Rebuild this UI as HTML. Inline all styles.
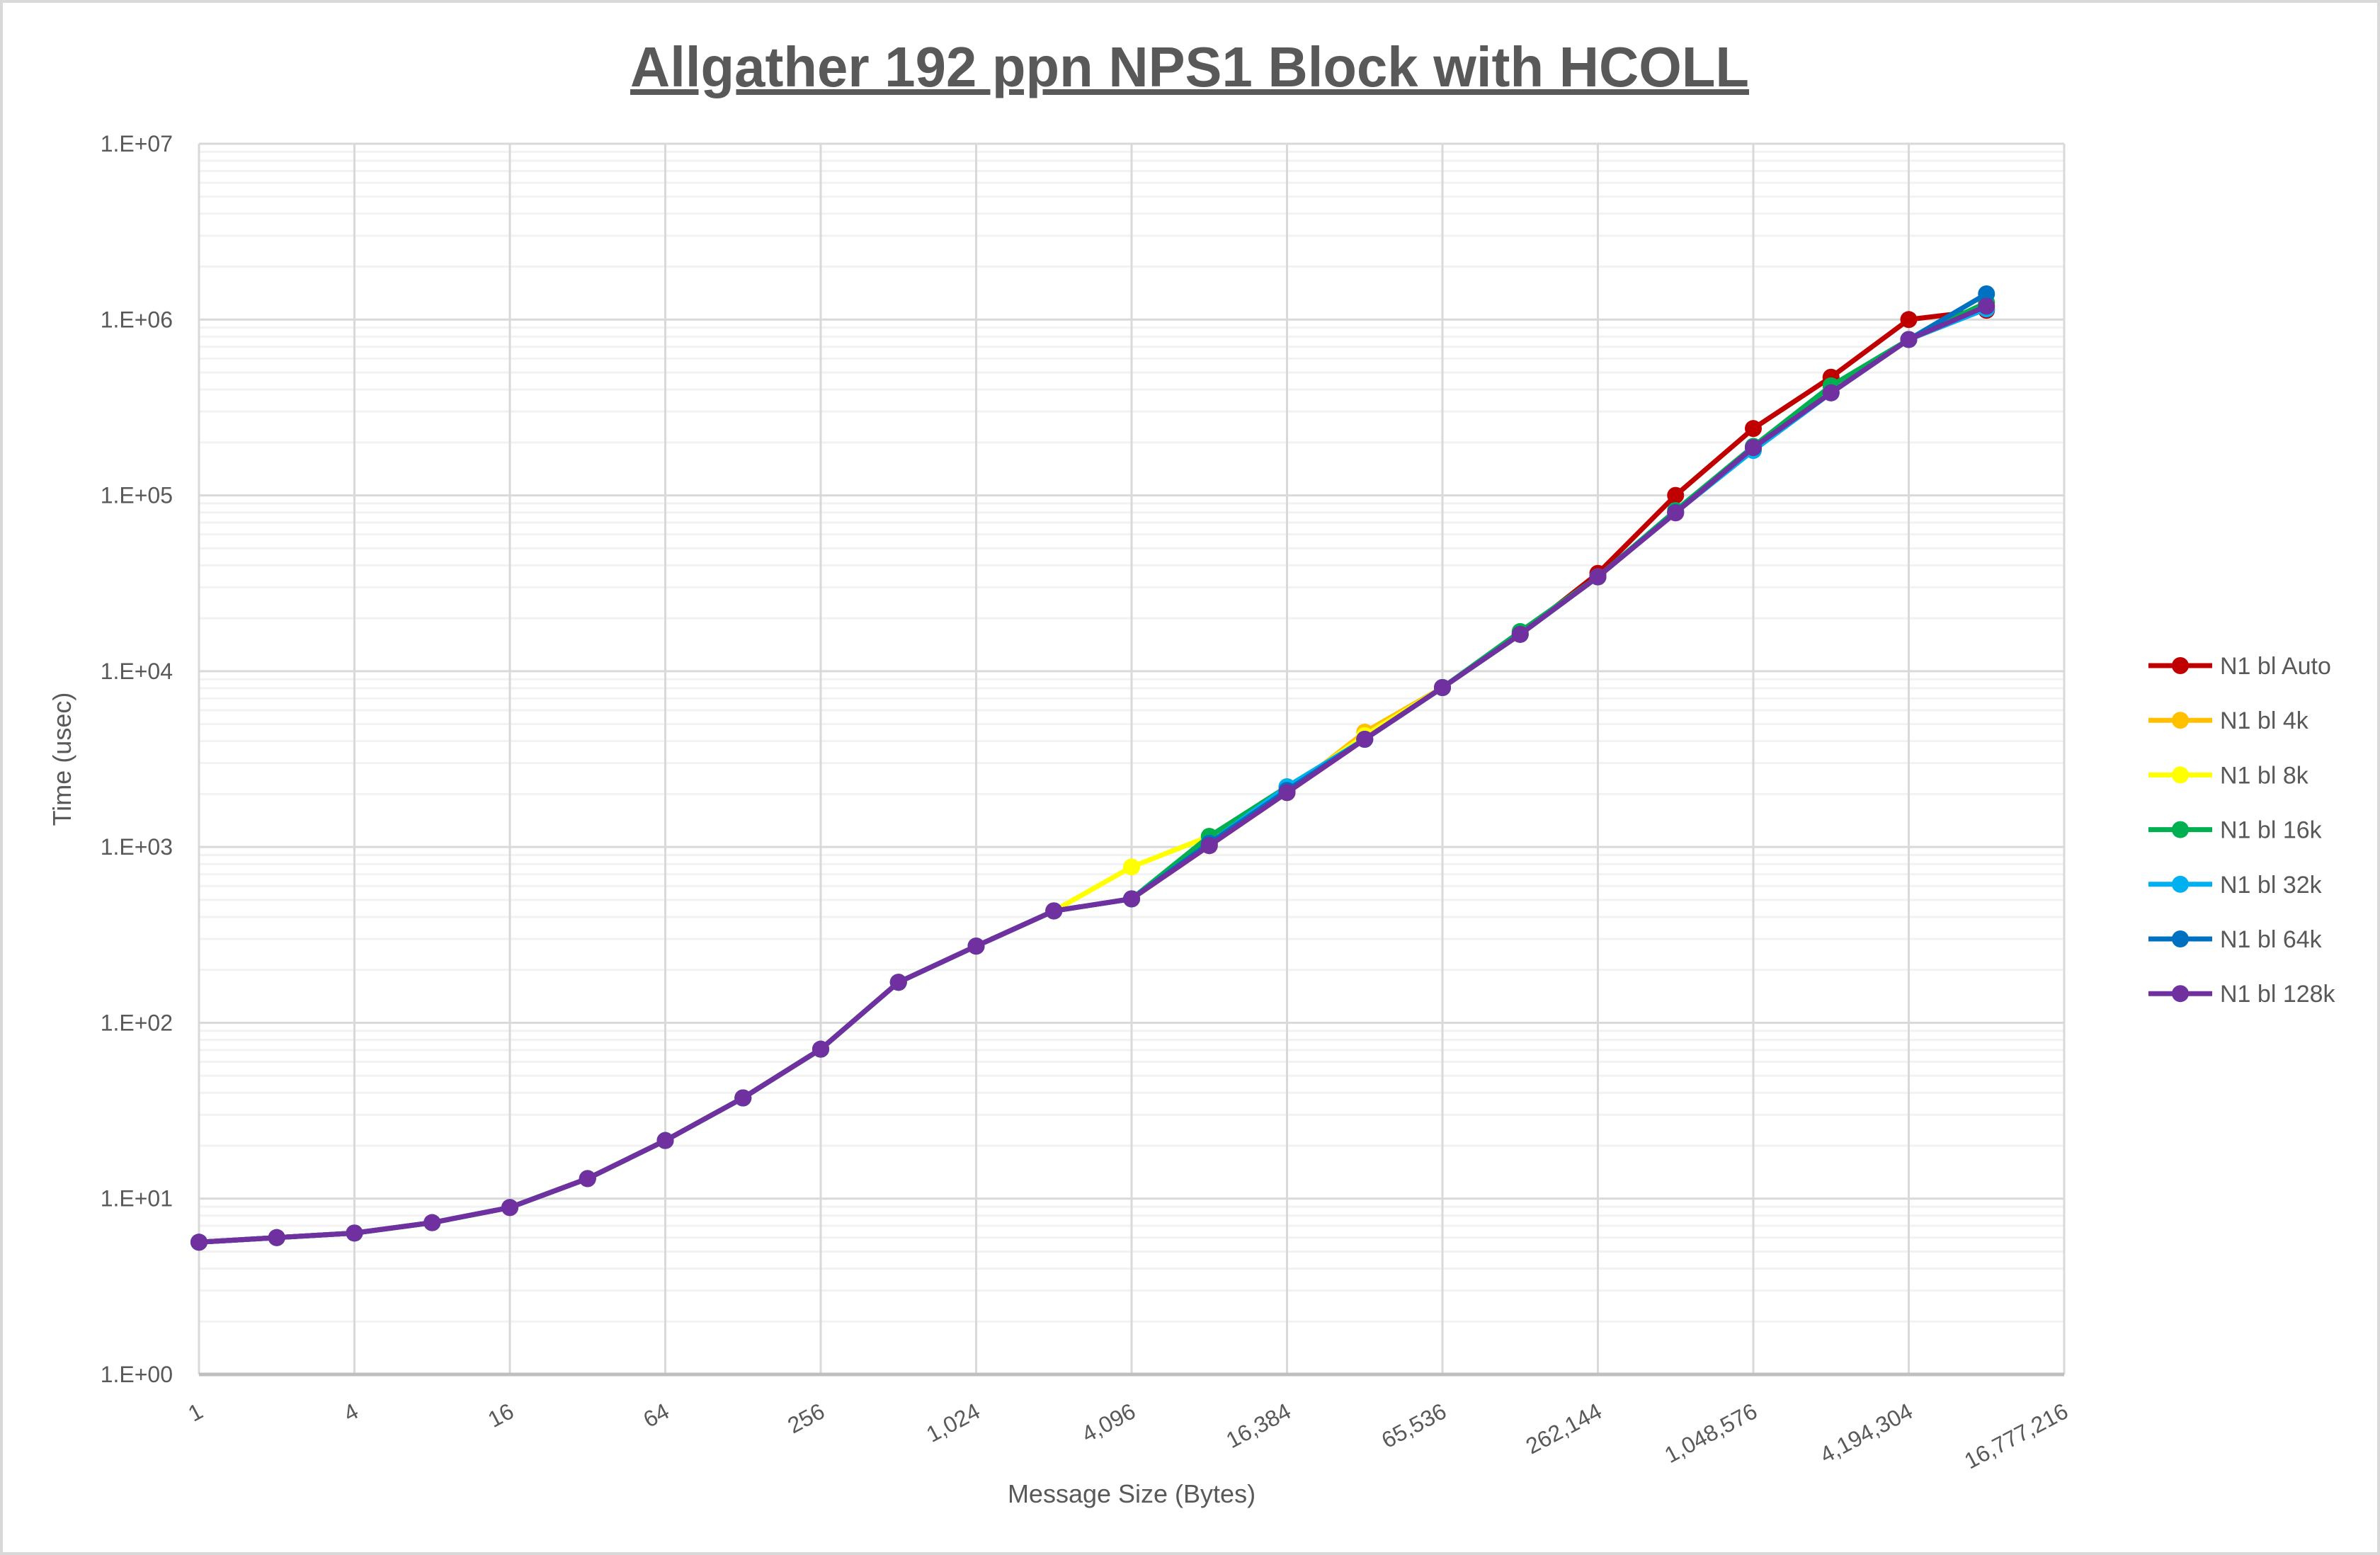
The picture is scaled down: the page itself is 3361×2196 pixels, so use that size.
<!DOCTYPE html>
<html><head><meta charset="utf-8"><style>
html,body{margin:0;padding:0;background:#fff;}
svg{display:block;font-family:"Liberation Sans",sans-serif;}
</style></head><body>
<svg id="chart" width="3361" height="2196" viewBox="0 0 3361 2196" xmlns="http://www.w3.org/2000/svg">
<rect x="2" y="2" width="3357" height="2192" fill="#fff" stroke="#d9d9d9" stroke-width="4"/>
<text x="1680" y="122" text-anchor="middle" font-size="80" font-weight="bold" fill="#595959" text-decoration="underline" textLength="1580" lengthAdjust="spacingAndGlyphs">Allgather 192 ppn NPS1 Block with HCOLL</text>
<g id="grid"></g>
<g id="axes"></g>
<g id="series"></g>
<g id="legend"></g>
<text x="1598" y="2122" text-anchor="middle" font-size="36" fill="#595959">Message Size (Bytes)</text>
<text transform="translate(100,1072) rotate(-90)" text-anchor="middle" font-size="36" fill="#595959">Time (usec)</text>
</svg>
<script>
const xTickLabels = ["1","4","16","64","256","1,024","4,096","16,384","65,536","262,144","1,048,576","4,194,304","16,777,216"];
const yTickLabels = ["1.E+00","1.E+01","1.E+02","1.E+03","1.E+04","1.E+05","1.E+06","1.E+07"];
const seriesNames = ["N1 bl Auto","N1 bl 4k","N1 bl 8k","N1 bl 16k","N1 bl 32k","N1 bl 64k","N1 bl 128k"];
const seriesColors = ["#C00000","#FFC000","#FFFF00","#00B050","#00B0F0","#0070C0","#7030A0"];
const auto = [5.65,6.0,6.37,7.3,8.9,13,21.4,37.4,70.8,170,273,433,507,1018,2040,4100,8070,16200,36000,100000,240000,470000,1000000,1130000];
const bl4k = [5.65,6.0,6.37,7.3,8.9,13,21.4,37.4,70.8,170,273,433,507,1018,2040,4500,8070,16200,34400,80000,187000,400000,770000,1200000];
const bl8k = [5.65,6.0,6.37,7.3,8.9,13,21.4,37.4,70.8,170,273,433,770,1150,2100,4300,8070,16200,34400,80000,187000,400000,770000,1250000];
const bl16k = [5.65,6.0,6.37,7.3,8.9,13,21.4,37.4,70.8,170,273,433,507,1150,2200,4100,8070,16800,34400,82000,190000,420000,770000,1250000];
const bl32k = [5.65,6.0,6.37,7.3,8.9,13,21.4,37.4,70.8,170,273,433,507,1050,2200,4100,8070,16200,34400,80000,180000,383000,770000,1150000];
const bl64k = [5.65,6.0,6.37,7.3,8.9,13,21.4,37.4,70.8,170,273,433,507,1050,2100,4100,8070,16200,34400,80000,187000,383000,770000,1400000];
const bl128k = [5.65,6.0,6.37,7.3,8.9,13,21.4,37.4,70.8,170,273,433,507,1018,2040,4100,8070,16200,34400,79500,187000,383000,770000,1190000];
const allSeries = [auto,bl4k,bl8k,bl16k,bl32k,bl64k,bl128k];

const NS="http://www.w3.org/2000/svg";
const L=281,R=2915,T=203,B=1941;
const xMaxPow=24, yMaxDec=7;
function xs(p){return L+(R-L)*p/xMaxPow;}
function ys(v){return B-(B-T)*Math.log10(v)/yMaxDec;}
function mk(tag,attrs,parent){const e=document.createElementNS(NS,tag);for(const k in attrs)e.setAttribute(k,attrs[k]);parent.appendChild(e);return e;}
const grid=document.getElementById('grid'),axes=document.getElementById('axes'),ser=document.getElementById('series'),leg=document.getElementById('legend');
for(let d=0;d<yMaxDec;d++){for(let m=2;m<=9;m++){const y=ys(m*Math.pow(10,d));
const ln=mk('line',{x1:L,x2:R,y1:y,y2:y,stroke:'#f2f2f2','stroke-width':3},grid);

}}
yTickLabels.forEach((t,i)=>{const y=ys(Math.pow(10,i));
const ln=mk('line',{x1:L,x2:R,y1:y,y2:y,stroke:i===0?'#bfbfbf':'#d9d9d9','stroke-width':i===0?5:3},i===0?axes:grid);


const tx=mk('text',{x:244,y:y+11,'text-anchor':'end','font-size':32,fill:'#595959'},axes);tx.textContent=t;

});
xTickLabels.forEach((t,i)=>{const x=xs(i*2);
const ln=mk('line',{x1:x,x2:x,y1:T,y2:B,stroke:'#d9d9d9','stroke-width':3},grid);


const tx=mk('text',{transform:`translate(${x+8},${2000}) rotate(-28)`,'text-anchor':'end','font-size':32,fill:'#595959'},axes);tx.textContent=t;

});
allSeries.forEach((vals,s)=>{const g=mk('g',{},ser);


const pts=vals.map((v,i)=>xs(i)+','+ys(v)).join(' ');
const pl=mk('polyline',{points:pts,fill:'none',stroke:seriesColors[s],'stroke-width':7,'stroke-linejoin':'round'},g);


vals.forEach((v,i)=>{const c=mk('circle',{cx:xs(i),cy:ys(v),r:12,fill:seriesColors[s]},g);

});});
seriesNames.forEach((n,s)=>{const y=940+s*77.2;const g=mk('g',{},leg);


mk('line',{x1:3034,x2:3124,y1:y,y2:y,stroke:seriesColors[s],'stroke-width':7},g);
mk('circle',{cx:3079,cy:y,r:12,fill:seriesColors[s]},g);
const tx=mk('text',{x:3135,y:y+12,'font-size':34,fill:'#595959'},g);tx.textContent=n;});
</script>
</body></html>
